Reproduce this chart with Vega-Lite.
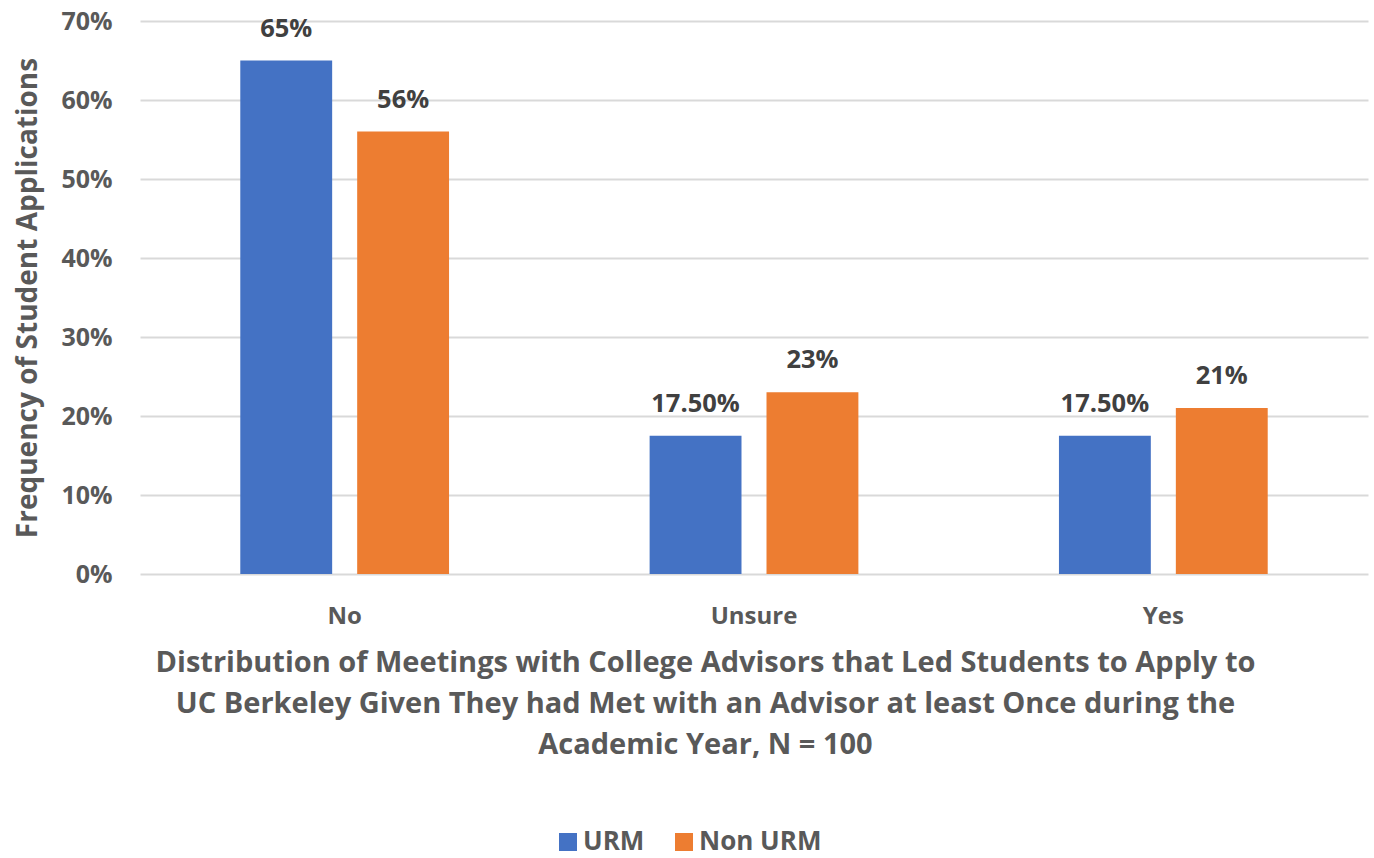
{
  "$schema": "https://vega.github.io/schema/vega-lite/v6.json",
  "width": 1228,
  "height": 553,
  "autosize": {"type": "none"},
  "padding": {"left": 140, "top": 21, "right": 6, "bottom": 284},
  "background": "white",
  "config": {
    "font": "Open Sans",
    "view": {"stroke": null}
  },
  "data": {
    "values": [
      {"answer": "No", "group": "URM", "value": 0.65, "label": "65%"},
      {"answer": "No", "group": "Non URM", "value": 0.56, "label": "56%"},
      {"answer": "Unsure", "group": "URM", "value": 0.175, "label": "17.50%"},
      {"answer": "Unsure", "group": "Non URM", "value": 0.23, "label": "23%"},
      {"answer": "Yes", "group": "URM", "value": 0.175, "label": "17.50%"},
      {"answer": "Yes", "group": "Non URM", "value": 0.21, "label": "21%"}
    ]
  },
  "encoding": {
    "x": {
      "field": "answer",
      "type": "nominal",
      "sort": ["No", "Unsure", "Yes"],
      "scale": {"paddingInner": 0.49, "paddingOuter": 0.245},
      "axis": {
        "domain": false,
        "ticks": false,
        "labelAngle": 0,
        "labelFont": "Open Sans",
        "labelFontSize": 24,
        "labelFontWeight": "bold",
        "labelColor": "#595959",
        "labelPadding": 30,
        "title": ["Distribution of Meetings with College Advisors that Led Students to Apply to", "UC Berkeley Given They had Met with an Advisor at least Once during the", "Academic Year, N = 100"],
        "titleFont": "Open Sans",
        "titleFontSize": 29,
        "titleFontWeight": "bold",
        "titleColor": "#595959",
        "titleLineHeight": 41,
        "titlePadding": 20,
        "titleX": 565,
        "titleAlign": "center"
      }
    },
    "xOffset": {
      "field": "group",
      "type": "nominal",
      "sort": ["URM", "Non URM"],
      "scale": {"paddingInner": 0.214, "paddingOuter": 0}
    },
    "y": {
      "field": "value",
      "type": "quantitative",
      "scale": {"domain": [0, 0.7]},
      "axis": {
        "values": [0, 0.1, 0.2, 0.3, 0.4, 0.5, 0.6, 0.7],
        "format": ".0%",
        "domain": false,
        "ticks": false,
        "gridColor": "#d9d9d9",
        "gridWidth": 2,
        "labelFont": "Open Sans",
        "labelFontSize": 25,
        "labelFontWeight": "bold",
        "labelColor": "#595959",
        "labelPadding": 28,
        "title": "Frequency of Student Applications",
        "titleFont": "Open Sans",
        "titleFontSize": 28,
        "titleFontWeight": "bold",
        "titleColor": "#595959",
        "titlePadding": 18
      }
    }
  },
  "layer": [
    {
      "mark": {"type": "bar"},
      "encoding": {
        "color": {
          "field": "group",
          "type": "nominal",
          "sort": ["URM", "Non URM"],
          "scale": {"domain": ["URM", "Non URM"], "range": ["#4472C4", "#ED7D31"]},
          "legend": {
            "title": null,
            "orient": "none",
            "direction": "horizontal",
            "legendX": 415,
            "legendY": 808,
            "symbolType": "square",
            "symbolSize": 324,
            "symbolStrokeWidth": 0,
            "labelFont": "Open Sans",
            "labelFontSize": 26,
            "labelFontWeight": "bold",
            "labelColor": "#595959",
            "columnPadding": 26,
            "labelOffset": 2
          }
        }
      }
    },
    {
      "mark": {"type": "text", "baseline": "alphabetic", "dy": -24, "font": "Open Sans", "fontSize": 25.5, "fontWeight": "bold", "color": "#404040"},
      "encoding": {
        "text": {"field": "label"}
      }
    }
  ]
}
